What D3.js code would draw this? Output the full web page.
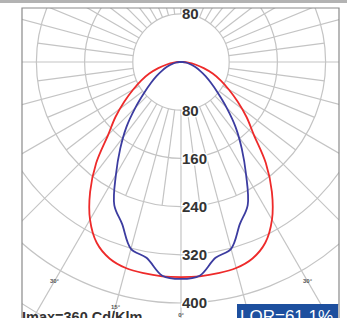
<!DOCTYPE html>
<html>
<head>
<meta charset="utf-8">
<script src="https://cdn.jsdelivr.net/npm/d3@7"></script>
<style>
    body { margin: 0; background: #fff; }
    svg { display: block; font-family: Arial, "Liberation Sans", sans-serif; }
</style>
</head>
<body>
<div id="chart"></div>
<script>
// ===============================
// DATA
// ===============================
const gammas = [0, 5, 10, 15, 20, 25, 30, 35, 40, 45, 50, 55, 60, 65, 70, 75, 80, 85, 90, 100, 180];

// C0-C180 plane (red)
const redValues = [357, 357, 356, 354, 347, 331, 302, 263, 219, 171, 142, 115, 92, 73, 56, 39, 24, 12, 4, 0, 0];

// C90-C270 plane (blue)
const blueValues = [360, 356, 330, 321, 286, 262, 216, 176, 141, 107, 80, 61, 47, 35, 26, 18, 12, 7, 3, 0, 0];

const ringTicks = [80, 160, 240, 320, 400, 480, 560];
const ringLabels = ["80", "160", "240", "320", "400"];
const angleLabels = [
    { a: 0, side: 1 },
    { a: 15, side: -1 },
    { a: 30, side: -1 },
    { a: 30, side: 1 }
];
// main spokes every 15°, short ones in between
const spokeAngles = d3.range(0, 360, 7.5);

const imaxText = "Imax=360 Cd/Klm";
const lorText = "LOR=61.1%";

// ===============================
// LAYOUT
// ===============================
const width = 347;
const height = 318;
const cx = 181;
const cy = 62;
const frame = { x0: 22, y0: 8, x1: 339, y1: 330 };

const r = d3.scaleLinear().domain([0, 400]).range([0, 241]);

const svg = d3.select("#chart")
    .append("svg")
    .attr("width", width)
    .attr("height", height);

// top grey band
svg.append("rect")
    .attr("x", 0).attr("y", 0)
    .attr("width", width).attr("height", 3)
    .attr("fill", "#b3b3b3");

svg.append("clipPath")
    .attr("id", "frameClip")
    .append("rect")
    .attr("x", frame.x0).attr("y", frame.y0)
    .attr("width", frame.x1 - frame.x0).attr("height", frame.y1 - frame.y0);

const plot = svg.append("g")
    .attr("clip-path", "url(#frameClip)");

const g = plot.append("g")
    .attr("transform", `translate(${cx},${cy})`);

const rad = a => a * Math.PI / 180;

g.selectAll(".spoke")
    .data(spokeAngles)
    .enter()
    .append("line")
    .attr("class", "spoke")
    .attr("x1", d => r(80) * Math.sin(rad(d)))
    .attr("y1", d => r(80) * Math.cos(rad(d)))
    .attr("x2", d => (d % 15 === 0 ? r(700) : r(240)) * Math.sin(rad(d)))
    .attr("y2", d => (d % 15 === 0 ? r(700) : r(240)) * Math.cos(rad(d)))
    .attr("stroke", "#c4c4c4")
    .attr("stroke-width", 1.2);

// rings
g.selectAll(".ring")
    .data(ringTicks)
    .enter()
    .append("circle")
    .attr("class", "ring")
    .attr("r", d => r(d))
    .attr("fill", "none")
    .attr("stroke", "#c4c4c4")
    .attr("stroke-width", 1.2);

// curves, mirrored left / right
function fullCurve(values) {
    const pts = gammas.map((gm, i) => ({ a: gm, v: values[i] }));
    const left = pts.slice().reverse().map(p => ({ a: -p.a, v: p.v }));
    return left.concat(pts.slice(1));
}

const line = d3.lineRadial()
    .angle(d => Math.PI + rad(d.a))
    .radius(d => r(d.v))
    .curve(d3.curveCatmullRom.alpha(0.5));

g.append("path")
    .datum(fullCurve(redValues))
    .attr("d", line)
    .attr("fill", "none")
    .attr("stroke", "#ee2a2a")
    .attr("stroke-width", 1.8);

g.append("path")
    .datum(fullCurve(blueValues))
    .attr("d", line)
    .attr("fill", "none")
    .attr("stroke", "#3c3ca0")
    .attr("stroke-width", 1.8);

// ring labels (top 80 plus the vertical axis)
function ringLabel(y, txt) {
    g.append("text")
        .attr("x", 1)
        .attr("y", y)
        .attr("dy", "0.36em")
        .attr("font-size", 15)
        .attr("font-weight", "bold")
        .attr("fill", "#333")
        .attr("stroke", "#fff")
        .attr("stroke-width", 3)
        .attr("paint-order", "stroke")
        .text(txt);
}
ringLabel(-r(80), "80");
ringLabels.forEach(d => ringLabel(r(+d), d));

// angle labels
const angleLabelR = r(420);
angleLabels.forEach(d => {
    g.append("text")
        .attr("x", d.side * angleLabelR * Math.sin(rad(d.a)))
        .attr("y", angleLabelR * Math.cos(rad(d.a)))
        .attr("text-anchor", "middle")
        .attr("dy", "0.36em")
        .attr("font-size", 6)
        .attr("font-weight", "bold")
        .attr("fill", "#555")
        .text(d.a + "°");
});

// frame
svg.append("path")
    .attr("d", `M${frame.x0},${height} V${frame.y0} H${frame.x1} V${height}`)
    .attr("fill", "none")
    .attr("stroke", "#8a8a8a")
    .attr("stroke-width", 1.2);

// Imax text
svg.append("text")
    .attr("x", 22)
    .attr("y", 322)
    .attr("font-size", 14.5)
    .attr("font-weight", "bold")
    .attr("fill", "#333")
    .text(imaxText);

// LOR box
svg.append("rect")
    .attr("x", 237)
    .attr("y", 304)
    .attr("width", 101)
    .attr("height", 20)
    .attr("fill", "#1d4f9e");

svg.append("text")
    .attr("x", 240)
    .attr("y", 322)
    .attr("font-size", 17)
    .attr("fill", "#fff")
    .text(lorText);
</script>
</body>
</html>
